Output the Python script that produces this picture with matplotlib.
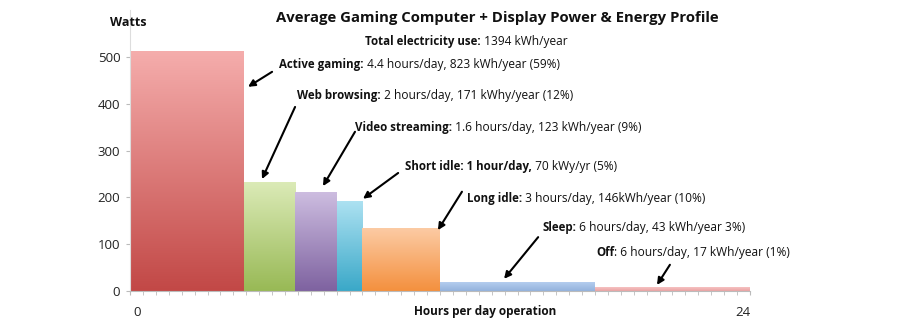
import numpy as np
import matplotlib.pyplot as plt
import matplotlib.transforms as mtransforms
from matplotlib.colors import LinearSegmentedColormap
from matplotlib.ticker import MultipleLocator

plt.rcParams['font.family'] = ['Open Sans', 'DejaVu Sans']

# Data: hours per day in each mode and average power draw (W)
modes = ['Active gaming', 'Web browsing', 'Video streaming', 'Short idle',
         'Long idle', 'Sleep', 'Off']
hours = [4.4, 2, 1.6, 1, 3, 6, 6]
watts = [512, 233, 211, 193, 134, 19, 8]

# Label text: bold part + regular part
bold_parts = ['Active gaming:', 'Web browsing:', 'Video streaming:',
              'Short idle: 1 hour/day,', 'Long idle:', 'Sleep:', 'Off']
plain_parts = [' 4.4 hours/day, 823 kWh/year (59%)',
               ' 2 hours/day, 171 kWhy/year (12%)',
               ' 1.6 hours/day, 123 kWh/year (9%)',
               ' 70 kWy/yr (5%)',
               ' 3 hours/day, 146kWh/year (10%)',
               ' 6 hours/day, 43 kWh/year 3%)',
               ': 6 hours/day, 17 kWh/year (1%)']

# Bar gradient colours (top, bottom)
colors = [('#f5adac', '#c24846'),
          ('#dcebb8', '#98b955'),
          ('#cdbde0', '#7e62a0'),
          ('#aee2f2', '#3aa8c8'),
          ('#fccba4', '#f4903e'),
          ('#b4cdef', '#93b2dc'),
          ('#f6c2c2', '#eaa2a2')]

# Label layout: text anchor (x, y) and arrow (start, end) in data units
text_pos = [(5.77, 483), (6.47, 417), (8.71, 350), (10.65, 265),
            (13.05, 197), (15.95, 135), (18.04, 83)]
arrow_from = [(5.50, 468), (6.39, 393), (8.71, 340), (10.38, 252),
              (12.85, 212), (15.80, 115), (20.9, 56)]
arrow_to = [(4.57, 436), (5.11, 239), (7.47, 224), (9.02, 197),
            (11.92, 130), (14.48, 26), (20.4, 13)]

fig = plt.figure(figsize=(9, 3.24), dpi=100)
ax = fig.add_axes([130 / 900, 33 / 324, 620 / 900, 281 / 324])

lefts = np.concatenate([[0], np.cumsum(hours)[:-1]])
bars = ax.bar(lefts, watts, width=hours, align='edge', color='none',
              edgecolor='none')

# vertical gradient inside each bar, clipped to the bar rectangle
grad = np.linspace(0, 1, 256).reshape(-1, 1)
for rect, (top, bottom) in zip(bars, colors):
    cmap = LinearSegmentedColormap.from_list('g', [bottom, top])
    x0, w, h = rect.get_x(), rect.get_width(), rect.get_height()
    im = ax.imshow(grad, cmap=cmap, origin='lower', aspect='auto',
                   extent=(x0, x0 + w, 0, h), zorder=1)
    im.set_clip_path(rect)

ax.set_xlim(0, 24)
ax.set_ylim(0, 600)
ax.set_xticks([0, 24])
ax.xaxis.set_minor_locator(MultipleLocator(0.5))
ax.set_yticks([0, 100, 200, 300, 400, 500])
ax.tick_params(axis='x', which='both', length=3, color='#bbbbbb',
               labelsize=9.5, labelcolor='#222222', pad=8)
ax.tick_params(axis='y', length=3, color='#bbbbbb', labelsize=9.5,
               labelcolor='#222222', pad=4)
for side in ['top', 'right']:
    ax.spines[side].set_visible(False)
ax.spines['left'].set_color('#dddddd')
ax.spines['bottom'].set_color('#bbbbbb')

# nudge the two x labels inward like the original
xlabels = ax.get_xticklabels()
for lab, dx in zip(xlabels, [7, -7]):
    lab.set_transform(lab.get_transform() +
                      mtransforms.ScaledTranslation(dx / 100, 0,
                                                    fig.dpi_scale_trans))

fs_bold = 8.3
fs_plain = 8.6
for i in range(len(modes)):
    tx, ty = text_pos[i]
    t = ax.text(tx, ty, bold_parts[i], fontsize=fs_bold, fontweight='bold',
                va='center', ha='left', color='#111111')
    ax.annotate(plain_parts[i], xy=(1, 0), xycoords=t, va='bottom',
                ha='left', fontsize=fs_plain, color='#111111')
    ax.annotate('', xy=arrow_to[i], xytext=arrow_from[i],
                arrowprops=dict(arrowstyle='-|>', color='black', lw=1.5,
                                mutation_scale=10, shrinkA=0, shrinkB=0))

t = ax.text(9.1, 532, 'Total electricity use:', fontsize=fs_bold,
            fontweight='bold', va='center', ha='left', color='#111111')
ax.annotate(' 1394 kWh/year', xy=(1, 0), xycoords=t, va='bottom',
            ha='left', fontsize=fs_plain, color='#111111')

fig.text(497 / 900, 1 - 18 / 324,
         'Average Gaming Computer + Display Power & Energy Profile',
         ha='center', va='center', fontsize=10.7, fontweight='bold',
         color='#111111')
fig.text(110 / 900, 1 - 22 / 324, 'Watts', ha='left', va='center',
         fontsize=9, fontweight='bold', color='#111111')
fig.text(485 / 900, 1 - 312 / 324, 'Hours per day operation', ha='center',
         va='center', fontsize=8.5, fontweight='bold', color='#111111')

fig.savefig('out.png', dpi=100)
